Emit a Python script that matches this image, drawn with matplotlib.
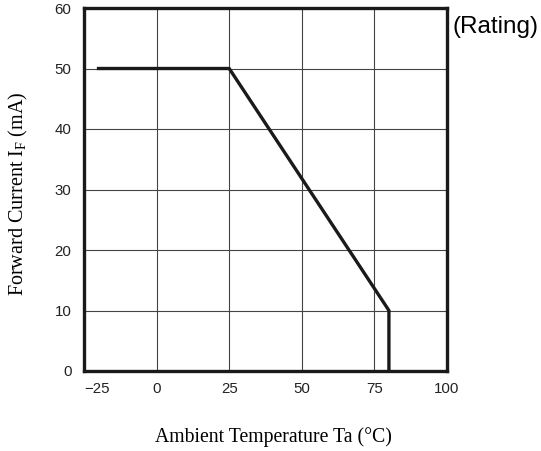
import matplotlib as mpl
mpl.use('agg')
import matplotlib.pyplot as plt

# derating curve
temp = [-20, 25, 80, 80]
current = [50, 50, 10, 0]

xticks = [-25, 0, 25, 50, 75, 100]
yticks = [0, 10, 20, 30, 40, 50, 60]

plt.rc('font', family='Liberation Sans', size=10.8)
plt.rc('mathtext', fontset='custom', rm='Liberation Serif', it='Liberation Serif')

fig = plt.figure(figsize=(5.41, 4.51), dpi=100)
ax = fig.add_axes([84 / 541, 1 - 371 / 451, 363 / 541, 363 / 451])

ax.plot(temp, current, color='#1a1a1a', lw=2.4, solid_joinstyle='miter', zorder=3)

ax.set_xlim(-25, 100)
ax.set_ylim(0, 60)
ax.set_xticks(xticks)
ax.set_yticks(yticks)
ax.set_xticklabels(['\u221225', '0', '25', '50', '75', '100'])
ax.get_xticklabels()[0].set_ha('left')
ax.tick_params(length=0, pad=8, colors='#222222')
ax.tick_params(axis='y', pad=9)
ax.grid(True, color='#444444', lw=0.8)
for s in ax.spines.values():
    s.set_linewidth(2.4)
    s.set_color('#1a1a1a')

# axis titles placed by hand (not centred on the axes in the original)
fig.text(273.5 / 541, 1 - 437 / 451, 'Ambient Temperature Ta (\u00b0C)',
         family='Liberation Serif', fontsize=14.2, ha='center', va='center')
fig.text(18.5 / 541, 1 - 194 / 451, r'Forward Current I$_{\mathrm{F}}$ (mA)',
         family='Liberation Serif', fontsize=14.5, ha='center', va='center',
         rotation=90)
fig.text(452 / 541, 1 - 27 / 451, '(Rating)', fontsize=17.5, va='center', ha='left')

fig.savefig('out.png', dpi=100)
